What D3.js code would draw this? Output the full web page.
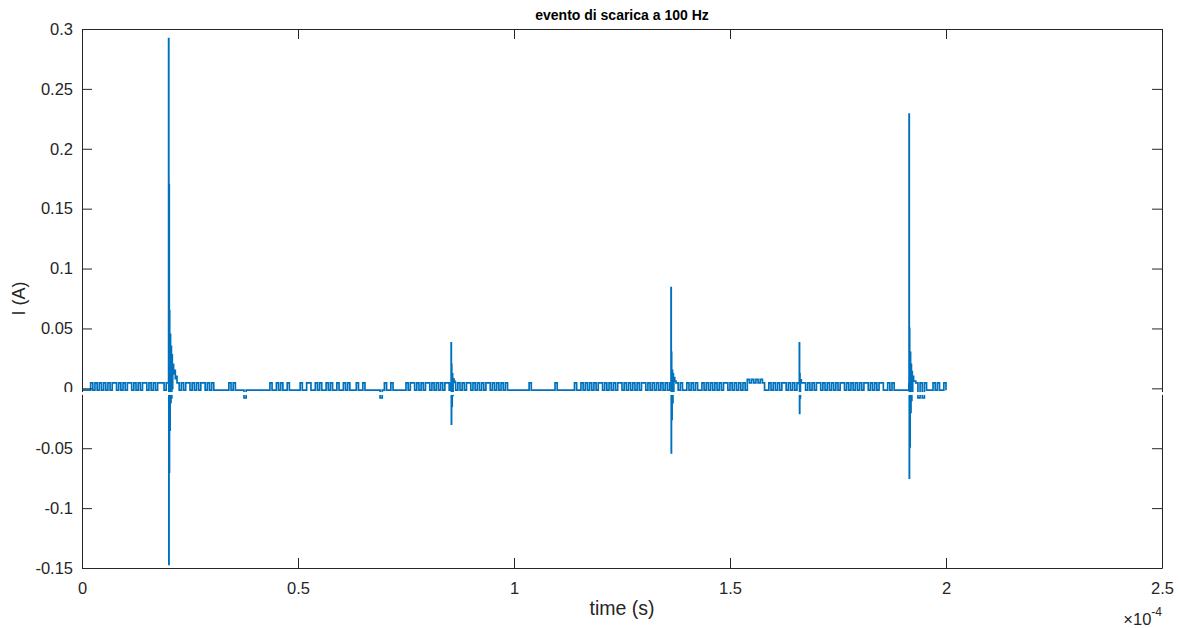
<!DOCTYPE html>
<html>
<head>
<meta charset="utf-8">
<script src="https://cdn.jsdelivr.net/npm/d3@7"></script>
<style>
  body { margin: 0; background: #fff; }
  text { font-family: "Liberation Sans", Arial, sans-serif; }
</style>
</head>
<body>
<div id="container"></div>
<script>
/* CONSTANTS AND GLOBALS */
const width = 1179,
  height = 628,
  margin = { top: 29, bottom: 60, left: 82, right: 17 };

/* DATA */
// y ticks and x ticks (x labels are shown in units of 1e-4 s)
const yTicks = [-0.15, -0.1, -0.05, 0, 0.05, 0.1, 0.15, 0.2, 0.25, 0.3];
const yTickLabels = ["-0.15", "-0.1", "-0.05", "0", "0.05", "0.1", "0.15", "0.2", "0.25", "0.3"];
const xTicks = [0, 0.5e-4, 1e-4, 1.5e-4, 2e-4, 2.5e-4];
const xTickLabels = ["0", "0.5", "1", "1.5", "2", "2.5"];

// background noise, one level code per sample (sample step 0.5 us)
const noiseStep = 0.5e-6;
const levelValues = [-0.0015, 0.0045, 0.0075, -0.008];
const noiseLevels =
  "00001" + "01010" + "101011010101101010110101011" + "101" + "1" +
  "110101011010101101010" + "0000001010000" + "3" + "00000000000" +
  "1001010010" + "0000" + "1001" + "100101001010" + "0" + "100101" +
  "000" + "1001" + "0000000" + "3" + "0" + "10010" + "00000" + "101" +
  "1010101101010101" + "10" + "1" + "10101011010101011010101010" +
  "000000000100000000000100000000" + "100101010101" +
  "10101010110101010101101010101010" + "1" + "101010010101001010" +
  "1010101101010101" + "0212121210" + "0101010110101010" + "1" +
  "101010110101010101101010101011010101" + "1001010000000" + "1" +
  "30131310001010010";

// discharge events: start time (s) and shape as [offset in us, current in A]
const spikeTimes = [20.0e-6, 85.4e-6, 136.3e-6, 166.0e-6, 191.4e-6];
const spikeShapes = [
  [[0, 0.0045], [0.05, 0.292], [0.1, -0.147], [0.15, 0.17], [0.2, -0.07], [0.25, 0.065],
   [0.3, -0.035], [0.4, 0.045], [0.5, -0.012], [0.6, 0.035], [0.7, -0.008], [0.8, 0.028],
   [0.9, 0.0], [1.0, 0.02], [1.2, 0.012], [1.4, 0.015], [1.6, 0.008], [1.8, 0.01]],
  [[0, 0.004], [0.05, 0.038], [0.1, -0.030], [0.15, 0.02], [0.2, -0.015], [0.3, 0.012],
   [0.4, -0.006], [0.5, 0.008], [0.7, 0.006], [0.9, 0.005]],
  [[0, 0.004], [0.05, 0.084], [0.1, -0.054], [0.15, 0.03], [0.2, -0.026], [0.3, 0.015],
   [0.4, -0.012], [0.5, 0.012], [0.6, -0.004], [0.7, 0.009], [0.9, 0.006]],
  [[0, 0.004], [0.05, 0.038], [0.1, -0.021], [0.15, 0.012], [0.2, -0.008], [0.3, 0.007]],
  [[0, 0.004], [0.05, 0.229], [0.1, -0.075], [0.15, 0.05], [0.2, -0.049], [0.3, 0.03],
   [0.4, -0.02], [0.5, 0.02], [0.6, -0.01], [0.7, 0.014], [0.8, -0.003], [0.9, 0.01],
   [1.1, 0.006]]
];

/* BUILD THE SERIES */
const windows = spikeTimes.map((t0, k) => [t0, t0 + spikeShapes[k][spikeShapes[k].length - 1][0] * 1e-6]);
let series = [];
noiseLevels.split("").forEach((c, i) => {
  const t = i * noiseStep;
  if (windows.some(w => t >= w[0] && t <= w[1])) return;
  series.push({ t: t, v: levelValues[+c] });
});
spikeTimes.forEach((t0, k) => {
  spikeShapes[k].forEach(p => series.push({ t: t0 + p[0] * 1e-6, v: p[1] }));
});
series.sort((a, b) => a.t - b.t);

/* SCALES */
const xScale = d3.scaleLinear()
  .domain([0, 2.5e-4])
  .range([margin.left, width - margin.right]);

const yScale = d3.scaleLinear()
  .domain([-0.15, 0.3])
  .range([height - margin.bottom, margin.top]);

const svg = d3.select("#container")
  .append("svg")
  .attr("width", width)
  .attr("height", height);

svg.append("defs").append("clipPath")
  .attr("id", "clip")
  .append("rect")
  .attr("x", margin.left)
  .attr("y", margin.top)
  .attr("width", width - margin.left - margin.right)
  .attr("height", height - margin.top - margin.bottom);

/* LINE */
// sampled signal drawn as steps, like the scope trace
const lineGen = d3.line()
  .curve(d3.curveStepAfter)
  .x(d => xScale(d.t))
  .y(d => yScale(d.v));

svg.append("path")
  .datum(series)
  .attr("clip-path", "url(#clip)")
  .attr("fill", "none")
  .attr("stroke", "#0072BD")
  .attr("stroke-width", 1.7)
  .attr("d", lineGen);

/* AXES */
const axisColor = "#262626";
const tick = 10;

const xAxis = d3.axisBottom(xScale)
  .tickValues(xTicks)
  .tickFormat((d, i) => xTickLabels[i])
  .tickSizeInner(-tick).tickSizeOuter(0).tickPadding(14);
const xAxisTop = d3.axisTop(xScale)
  .tickValues(xTicks).tickFormat("")
  .tickSizeInner(-tick).tickSizeOuter(0);
const yAxis = d3.axisLeft(yScale)
  .tickValues(yTicks)
  .tickFormat((d, i) => yTickLabels[i])
  .tickSizeInner(-tick).tickSizeOuter(0).tickPadding(9);
const yAxisRight = d3.axisRight(yScale)
  .tickValues(yTicks).tickFormat("")
  .tickSizeInner(-tick).tickSizeOuter(0);

const axes = [
  svg.append("g").attr("transform", `translate(0, ${height - margin.bottom})`).call(xAxis),
  svg.append("g").attr("transform", `translate(0, ${margin.top})`).call(xAxisTop),
  svg.append("g").attr("transform", `translate(${margin.left}, 0)`).call(yAxis),
  svg.append("g").attr("transform", `translate(${width - margin.right}, 0)`).call(yAxisRight)
];
axes.forEach(g => {
  g.select(".domain").attr("stroke", axisColor);
  g.selectAll(".tick line").attr("stroke", axisColor);
  g.selectAll(".tick text")
    .attr("fill", axisColor)
    .style("font-size", "16.5px");
});

/* LABELS */
svg.append("text")
  .attr("x", (margin.left + width - margin.right) / 2)
  .attr("y", 20)
  .attr("text-anchor", "middle")
  .attr("fill", "#000")
  .style("font-size", "14px")
  .style("font-weight", "bold")
  .text("evento di scarica a 100 Hz");

svg.append("text")
  .attr("x", (margin.left + width - margin.right) / 2)
  .attr("y", 615)
  .attr("text-anchor", "middle")
  .attr("fill", axisColor)
  .style("font-size", "19.5px")
  .text("time (s)");

svg.append("text")
  .attr("transform", `translate(25, ${(margin.top + height - margin.bottom) / 2}) rotate(-90)`)
  .attr("text-anchor", "middle")
  .attr("fill", axisColor)
  .style("font-size", "18px")
  .text("I (A)");

const expo = svg.append("text")
  .attr("x", width - margin.right)
  .attr("y", 625)
  .attr("text-anchor", "end")
  .attr("fill", axisColor)
  .style("font-size", "16.5px");
expo.append("tspan").text("\u00d710");
expo.append("tspan").attr("dy", -9).style("font-size", "12px").text("-4");

// thin white band crossing the picture just under zero
svg.append("rect")
  .attr("x", 0)
  .attr("width", width)
  .attr("y", yScale(-0.0031))
  .attr("height", yScale(-0.0055) - yScale(-0.0031))
  .attr("fill", "#fff");
</script>
</body>
</html>
